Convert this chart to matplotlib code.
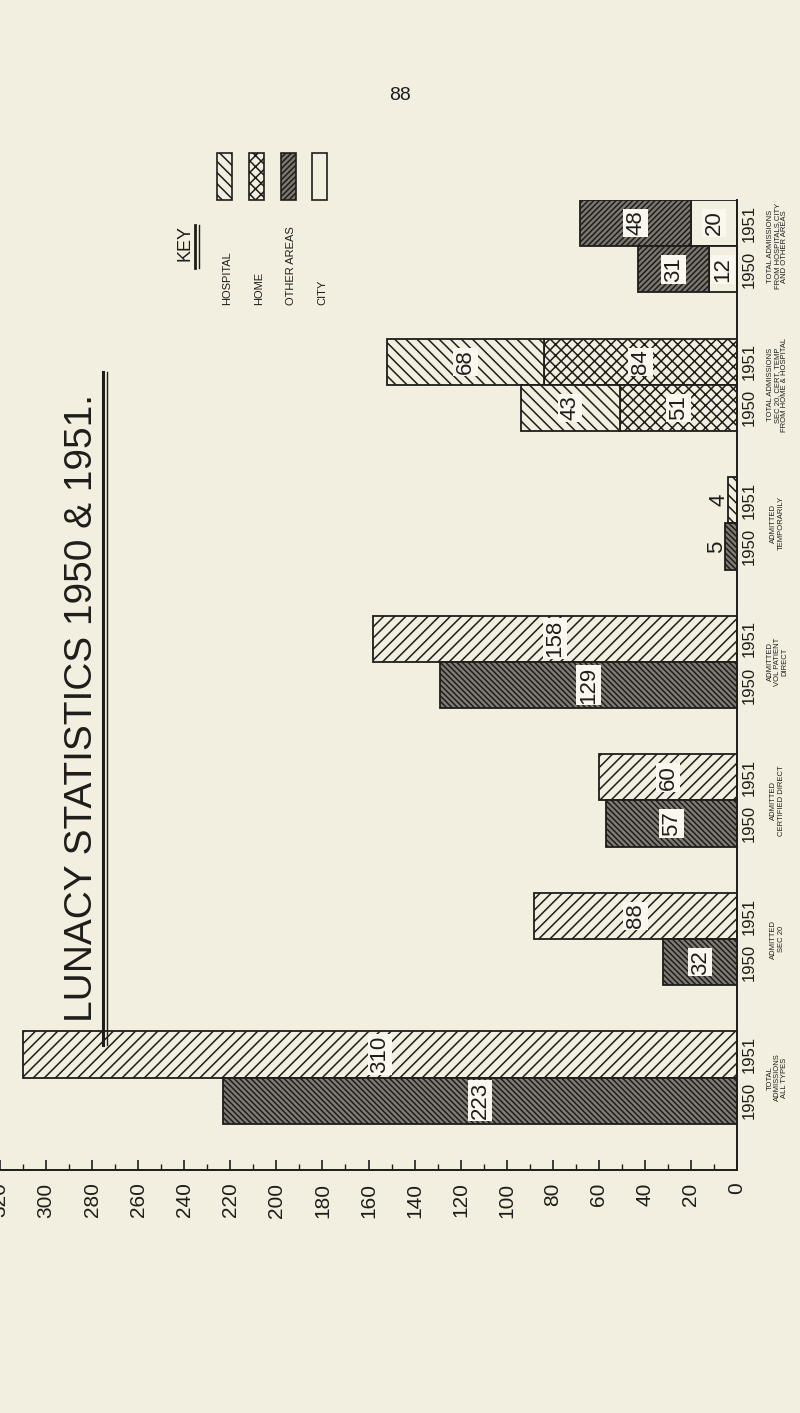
import matplotlib
matplotlib.use('Agg')
import matplotlib.pyplot as plt
from matplotlib.patches import Rectangle
from matplotlib.lines import Line2D
from matplotlib.transforms import blended_transform_factory

plt.rcParams['font.family'] = ['Liberation Sans', 'DejaVu Sans']
plt.rcParams['hatch.linewidth'] = 1.1

paper = '#f3efe0'
ink = '#1f1d1a'

# groups from top of the page to the bottom
group_labels = [
    'TOTAL ADMISSIONS\nFROM HOSPITALS,CITY\nAND OTHER AREAS',
    'TOTAL ADMISSIONS\nSEC 20, CERT, TEMP\nFROM HOME & HOSPITAL',
    'ADMITTED\nTEMPORARILY',
    'ADMITTED\nVOL PATIENT\nDIRECT',
    'ADMITTED\nCERTIFIED DIRECT',
    'ADMITTED\nSEC 20',
    'TOTAL\nADMISSIONS\nALL TYPES',
]
years = ['1950', '1951']
key_labels = ['HOSPITAL', 'HOME', 'OTHER AREAS', 'CITY']

# first two groups are split by source (segments from the baseline outwards)
stack_sources = [['CITY', 'OTHER AREAS'], ['HOME', 'HOSPITAL']]
stack_1950 = [[12, 31], [51, 43]]
stack_1951 = [[20, 48], [84, 68]]

# remaining groups are single totals
single_1950 = [5, 129, 57, 32, 223]
single_1951 = [4, 158, 60, 88, 310]

value_ticks = list(range(0, 321, 20))
minor_ticks = list(range(10, 320, 20))

source_style = {
    'HOSPITAL': (paper, '\\\\\\'),
    'HOME': (paper, 'xxx'),
    'OTHER AREAS': ('#7c786f', '//////'),
    'CITY': (paper, ''),
}
style_1950 = ('#807c74', '\\\\\\\\\\\\')
style_1951 = (paper, '///')
single_style_1951 = [source_style['HOSPITAL']] + [style_1951] * 4

W, H = 800, 1413
fig = plt.figure(figsize=(W / 100, H / 100), dpi=100, facecolor=paper)


def fx(px):
    return px / W


def fy(py):
    return 1 - py / H


ax = fig.add_axes([0, fy(1170), fx(737), (1170 - 200) / H])
ax.set_facecolor('none')
ax.set_xlim(320, 0)
ax.set_ylim(7, 0)

bh = 1 / 3
lab_box = dict(boxstyle='square,pad=0.08', fc='#faf7ee', ec='none')


def put_label(x, y, v, boxed=True):
    ax.text(x, y, str(v), rotation=90, ha='center', va='center', fontsize=16,
            color=ink, bbox=lab_box if boxed else None, zorder=5)


# stacked groups
for i in range(len(stack_sources)):
    for yr_vals, yc in ((stack_1951, i + bh / 2), (stack_1950, i + 1.5 * bh)):
        left = 0
        for src, v in zip(stack_sources[i], yr_vals[i]):
            fc, hatch = source_style[src]
            ax.barh(yc, v, left=left, height=bh, color=fc, hatch=hatch,
                    edgecolor=ink, linewidth=1.3)
            put_label(left + v / 2, yc, v)
            left += v

# single groups
off = len(stack_sources)
for j in range(len(single_1950)):
    i = off + j
    for vals, styles, yc in ((single_1951, single_style_1951, i + bh / 2),
                             (single_1950, [style_1950] * 5, i + 1.5 * bh)):
        v = vals[j]
        fc, hatch = styles[j]
        ax.barh(yc, v, height=bh, color=fc, hatch=hatch, edgecolor=ink,
                linewidth=1.3)
        if v < 10:
            put_label(v + 4, yc, v, boxed=False)
        else:
            put_label(v / 2, yc, v)

# axes styling
for s in ('top', 'left'):
    ax.spines[s].set_visible(False)
for s in ('bottom', 'right'):
    ax.spines[s].set_linewidth(1.4)
    ax.spines[s].set_color(ink)
ax.set_yticks([])
ax.set_xticks(value_ticks)
ax.set_xticks(minor_ticks, minor=True)
ax.tick_params(axis='x', which='major', direction='in', length=7, width=1.2,
               labelrotation=90, labelsize=15, pad=9, colors=ink)
ax.tick_params(axis='x', which='minor', direction='in', length=4, width=1.0,
               colors=ink)

# year and group labels to the right of the baseline
tr = blended_transform_factory(ax.transAxes, ax.transData)
for i, lab in enumerate(group_labels):
    ax.text(1.016, i + bh / 2, years[1], transform=tr, rotation=90,
            ha='center', va='center', fontsize=12, color=ink)
    ax.text(1.016, i + 1.5 * bh, years[0], transform=tr, rotation=90,
            ha='center', va='center', fontsize=12, color=ink)
    ax.text(1.055, i + bh, lab, transform=tr, rotation=90, ha='center',
            va='center', fontsize=5.5, linespacing=1.05, color=ink)

# title
fig.text(fx(82), fy(708), 'LUNACY STATISTICS 1950 & 1951.', rotation=90,
         ha='center', va='center', fontsize=28, color=ink)
fig.add_artist(Line2D([fx(103), fx(103)], [fy(372), fy(1045)], color=ink,
                      lw=2.2, transform=fig.transFigure))
fig.add_artist(Line2D([fx(107), fx(107)], [fy(372), fy(1045)], color=ink,
                      lw=1.0, transform=fig.transFigure))

# page number
fig.text(0.5, fy(95), '88', ha='center', va='center', fontsize=14, color=ink)

# key
fig.text(fx(185), fy(225), 'KEY', rotation=90, ha='center', va='top',
         fontsize=13, color=ink)
for xl, lw in ((195, 2.0), (199, 1.0)):
    fig.add_artist(Line2D([fx(xl), fx(xl)], [fy(225), fy(268)], color=ink,
                          lw=lw, transform=fig.transFigure))
key_x = [217, 249, 281, 312]
for xk, lab in zip(key_x, key_labels):
    fc, hatch = source_style[lab]
    fig.add_artist(Rectangle((fx(xk), fy(200)), 15 / W, 47 / H, facecolor=fc,
                             hatch=hatch, edgecolor=ink, linewidth=1.2,
                             transform=fig.transFigure))
    fig.text(fx(xk + 10), fy(305), lab, rotation=90, ha='center', va='bottom',
             fontsize=8, color=ink)

fig.savefig('out.png', dpi=100, facecolor=paper)
